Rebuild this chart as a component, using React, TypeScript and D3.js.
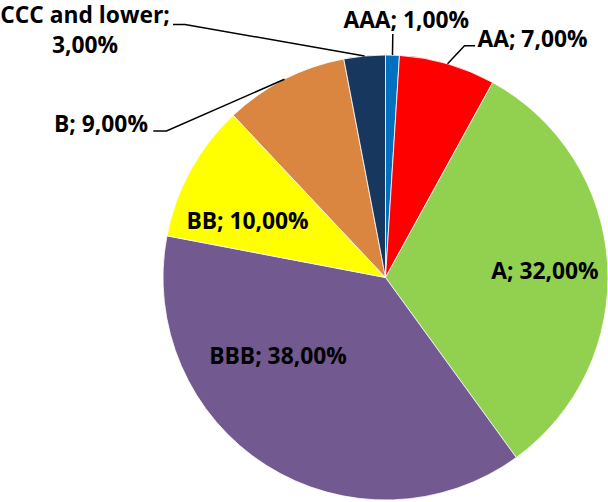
import React from "react";
import * as d3 from "d3";

const categories = ["AAA", "AA", "A", "BBB", "BB", "B", "CCC and lower"];
const values = [1, 7, 32, 38, 10, 9, 3];
const colors = ["#0070C0", "#FF0000", "#92D050", "#72598F", "#FFFF00", "#DA8540", "#17375E"];

const W = 608;
const H = 502;
const cx = 385.5;
const cy = 277.5;
const R = 222.5;
const FONT = "'Open Sans', 'DejaVu Sans', sans-serif";
const FS = 22.8;

type Lab = {
  lines: string[];
  x: number;
  y: number;
  anchor: "start" | "middle" | "end";
  leader?: [number, number][];
};

const fmt = (v: number) => v.toFixed(2).replace(".", ",") + "%";

export default function App() {
  const pie = d3.pie<number>().sort(null).value((d) => d)(values);
  const arc = d3.arc<d3.PieArcDatum<number>>().innerRadius(0).outerRadius(R);

  const edge = (a: d3.PieArcDatum<number>) => {
    const m = (a.startAngle + a.endAngle) / 2;
    return [cx + R * Math.sin(m), cy - R * Math.cos(m)] as [number, number];
  };

  const labels: Lab[] = [
    { lines: [`${categories[0]}; ${fmt(values[0])}`], x: 406.3, y: 28.3, anchor: "middle", leader: [[392.8, 34]] },
    { lines: [`${categories[1]}; ${fmt(values[1])}`], x: 532.5, y: 46.7, anchor: "middle", leader: [[475, 45.7], [464.5, 45.7]] },
    { lines: [`${categories[2]}; ${fmt(values[2])}`], x: 545, y: 279, anchor: "middle" },
    { lines: [`${categories[3]}; ${fmt(values[3])}`], x: 278, y: 364, anchor: "middle" },
    { lines: [`${categories[4]}; ${fmt(values[4])}`], x: 247.5, y: 229, anchor: "middle" },
    { lines: [`${categories[5]}; ${fmt(values[5])}`], x: 101, y: 131.7, anchor: "middle", leader: [[153.3, 131], [166.5, 131]] },
    { lines: [`${categories[6]};`, fmt(values[6])], x: 85, y: 22.7, anchor: "middle", leader: [[173, 24.5], [185, 24.5]] },
  ];

  return (
    <svg width={W} height={H} style={{ position: "absolute", left: 0, top: 0, background: "#fff" }}>
      <g transform={`translate(${cx},${cy})`}>
        {pie.map((p, i) => (
          <path key={i} d={arc(p) || ""} fill={colors[i]} stroke="#fff" strokeWidth={0.8} />
        ))}
      </g>
      {labels.map((l, i) =>
        l.leader ? (
          <polyline
            key={"l" + i}
            points={[...l.leader, edge(pie[i])].map((p) => p.join(",")).join(" ")}
            fill="none"
            stroke="#000"
            strokeWidth={1.5}
          />
        ) : null
      )}
      {labels.map((l, i) => (
        <text
          key={"t" + i}
          x={l.x}
          y={l.y}
          textAnchor={l.anchor}
          fontFamily={FONT}
          fontWeight={700}
          fontSize={FS}
          fill="#000"
        >
          {l.lines.map((s, j) => (
            <tspan key={j} x={l.x} dy={j === 0 ? 0 : 30.6}>
              {s}
            </tspan>
          ))}
        </text>
      ))}
    </svg>
  );
}
